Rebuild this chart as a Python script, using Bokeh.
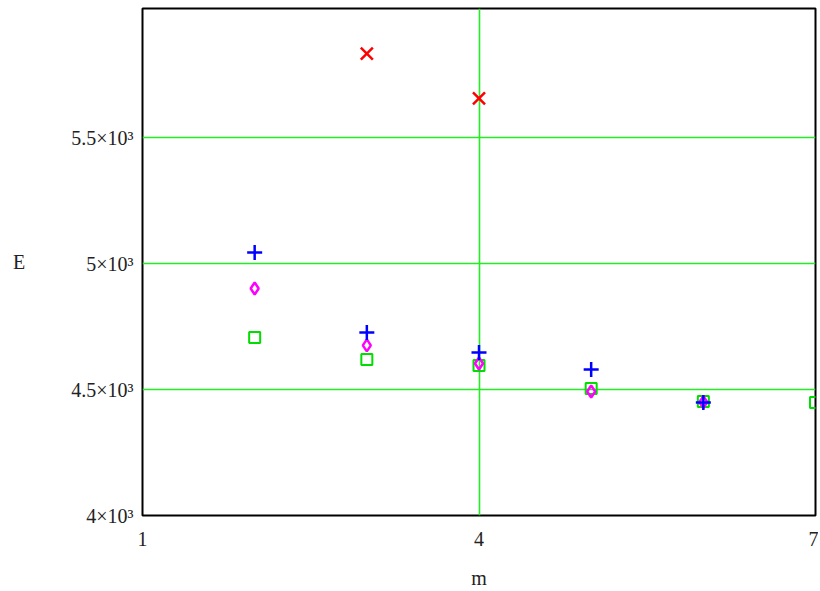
from bokeh.plotting import figure
from bokeh.models import Range1d, FixedTicker
from bokeh.embed import file_html
from bokeh.resources import INLINE

m_x = [3, 4]
E_x = [5833, 5655]
m_plus = [2, 3, 4, 5, 6]
E_plus = [5044, 4726, 4647, 4579, 4448]
m_dia = [2, 3, 4, 5, 6]
E_dia = [4901, 4675, 4603, 4492, 4450]
m_sq = [2, 3, 4, 5, 6, 7]
E_sq = [4706, 4619, 4595, 4504, 4452, 4448]

x_ticks = [1, 4, 7]
y_ticks = [4000, 4500, 5000, 5500]
y_tick_labels = {4000: "4×10³", 4500: "4.5×10³", 5000: "5×10³", 5500: "5.5×10³"}

p = figure(width=818, height=591, output_backend="svg", toolbar_location=None,
           x_range=Range1d(1, 7), y_range=Range1d(4000, 6012),
           min_border_left=142, min_border_right=3, min_border_top=8, min_border_bottom=75)

p.outline_line_color = "black"
p.outline_line_width = 2
p.background_fill_color = "white"
p.border_fill_color = "white"

for ax in (p.xaxis[0], p.yaxis[0]):
    ax.axis_line_color = None
    ax.major_tick_line_color = None
    ax.minor_tick_line_color = None
    ax.major_label_text_font = "Liberation Serif"
    ax.major_label_text_font_size = "20px"
    ax.major_label_text_color = "#222222"
    ax.axis_label_text_font = "Liberation Serif"
    ax.axis_label_text_font_size = "20px"
    ax.axis_label_text_font_style = "normal"
    ax.axis_label_text_color = "#222222"

p.xaxis.ticker = FixedTicker(ticks=x_ticks)
p.yaxis.ticker = FixedTicker(ticks=y_ticks)
p.yaxis.major_label_overrides = y_tick_labels
p.xaxis.major_label_standoff = 10
p.yaxis.major_label_standoff = 3
p.xaxis.axis_label = "m"
p.xaxis.axis_label_standoff = 18
p.yaxis.axis_label = "E"
p.yaxis.axis_label_orientation = "horizontal"
p.yaxis.axis_label_standoff = 43

p.xgrid.grid_line_color = "#22ee22"
p.ygrid.grid_line_color = "#22ee22"
p.xgrid.grid_line_width = 1.6
p.ygrid.grid_line_width = 1.6

p.scatter(m_sq, E_sq, marker="square", size=11, fill_color=None, line_color="#00dd00", line_width=2)
p.scatter(m_dia, E_dia, marker="diamond", size=12, fill_color=None, line_color="#ff00ff", line_width=2.5)
p.scatter(m_plus, E_plus, marker="cross", size=15, line_color="#0000ff", line_width=2.5)
p.scatter(m_x, E_x, marker="x", size=17, line_color="#ff0000", line_width=2.5)

open("out.html", "w").write(file_html(p, INLINE))
